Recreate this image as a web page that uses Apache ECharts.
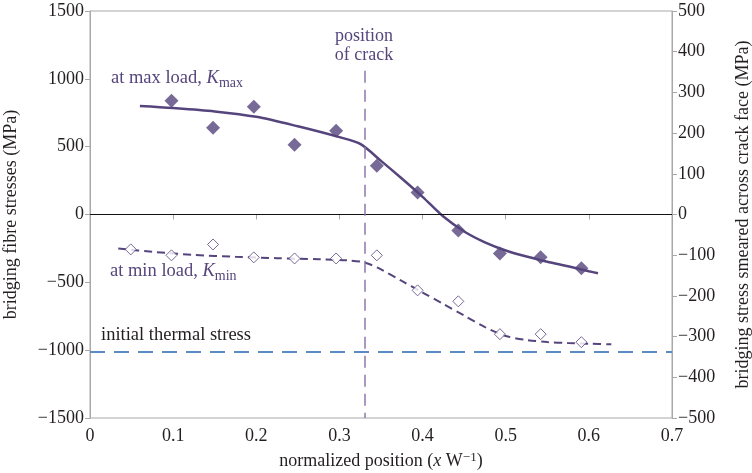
<!DOCTYPE html>
<html><head><meta charset="utf-8">
<script src="https://cdn.jsdelivr.net/npm/echarts@6/dist/echarts.min.js"></script>
<style>html,body{margin:0;padding:0;background:#fff}#c{width:752px;height:473px}</style>
</head><body><div id="c"></div>
<script>
// data
const maxPointsX = [0.098,0.148,0.197,0.246,0.296,0.345,0.394,0.443,0.493,0.542,0.591];
const maxPointsY = [838,640,794,515,618,360,162,-118,-287,-316,-397];
const minPointsX = [0.049,0.098,0.148,0.197,0.246,0.296,0.345,0.394,0.443,0.493,0.542,0.591];
const minPointsY = [-257,-301,-221,-316,-324,-324,-301,-559,-640,-882,-882,-941];
const maxCurveX = [0.06,0.1,0.15,0.2,0.25,0.3,0.325,0.35,0.375,0.4,0.425,0.45,0.475,0.5,0.525,0.55,0.575,0.6,0.611];
const maxCurveY = [800,785,760,720,650,570,520,395,265,130,-15,-125,-205,-265,-310,-348,-382,-418,-433];
const minCurveX = [0.034,0.075,0.125,0.175,0.225,0.275,0.31,0.331,0.35,0.375,0.4,0.425,0.45,0.475,0.5,0.525,0.55,0.575,0.6,0.627];
const minCurveY = [-250,-275,-298,-312,-322,-330,-338,-355,-405,-490,-575,-660,-745,-830,-895,-925,-940,-948,-952,-957];
const crackX = 0.331;
const crackTop = 1060;
const thermalStress = -1010;
const xTicks = [0,0.1,0.2,0.3,0.4,0.5,0.6,0.7];
const leftTicks = [-1500,-1000,-500,0,500,1000,1500];
const rightTicks = [-500,-400,-300,-200,-100,0,100,200,300,400,500];

const zip = (a,b)=>a.map((v,i)=>[v,b[i]]);
const PURPLE = '#56457c';
const FONT = 'Liberation Serif';
const FS = 18;
const AX = '#a8a8a8';
const TXT = '#231f20';
const fmt = v => String(v).replace('-', '\u2212');

const chart = echarts.init(document.getElementById('c'));
chart.setOption({
  animation:false,
  textStyle:{fontFamily:FONT},
  grid:{left:90,right:80,top:11,bottom:55,show:true,borderColor:AX,borderWidth:1,backgroundColor:'transparent',
        containLabel:false,outerBoundsMode:'none'},
  xAxis:{type:'value',min:xTicks[0],max:xTicks[xTicks.length-1],interval:0.1,
    name:'{n|normalized position (}{i|x}{n| W}{p|\u22121}{n|)}',nameLocation:'middle',nameGap:33,
    nameTextStyle:{fontFamily:FONT,fontSize:FS,color:TXT,rich:{
      n:{fontFamily:FONT,fontSize:FS,color:TXT},
      i:{fontFamily:FONT,fontSize:FS,color:TXT,fontStyle:'italic'},
      p:{fontFamily:FONT,fontSize:13,color:TXT,padding:[0,0,8,0]}}},
    axisLine:{lineStyle:{color:AX}},axisTick:{show:true,length:5,lineStyle:{color:AX}},
    axisLabel:{fontFamily:FONT,fontSize:FS,color:TXT,margin:9,formatter:v=>fmt(Math.round(v*10)/10)},
    splitLine:{show:false}},
  yAxis:[
    {type:'value',min:leftTicks[0],max:leftTicks[leftTicks.length-1],interval:500,
     name:'bridging fibre stresses (MPa)',nameLocation:'middle',nameGap:70,
     nameTextStyle:{fontFamily:FONT,fontSize:FS,color:TXT},
     axisLine:{show:true,lineStyle:{color:AX}},axisTick:{show:true,length:5,lineStyle:{color:AX}},
     axisLabel:{fontFamily:FONT,fontSize:FS,color:TXT,margin:6,formatter:fmt},
     splitLine:{show:false}},
    {type:'value',min:rightTicks[0],max:rightTicks[rightTicks.length-1],interval:100,position:'right',
     name:'bridging stress smeared across crack face (MPa)',nameLocation:'middle',nameGap:62,nameRotate:90,
     nameTextStyle:{fontFamily:FONT,fontSize:FS,color:TXT},
     axisLine:{show:true,lineStyle:{color:AX}},axisTick:{show:true,length:5,lineStyle:{color:AX}},
     axisLabel:{fontFamily:FONT,fontSize:FS,color:TXT,margin:6,formatter:fmt},
     splitLine:{show:false}}
  ],
  series:[
    {type:'line',data:zip(maxCurveX,maxCurveY),smooth:0.3,showSymbol:false,symbol:'none',
     lineStyle:{color:PURPLE,width:2.5},z:3,
     markLine:{silent:true,symbol:'none',label:{show:false},
       data:[
         [{coord:[xTicks[0],0],lineStyle:{color:'#111',width:1,type:'solid'}},{coord:[xTicks[xTicks.length-1],0]}],
         [{coord:[crackX,crackTop],lineStyle:{color:'#8b78ab',width:1.5,type:[12,7]}},{coord:[crackX,leftTicks[0]]}],
         [{coord:[xTicks[0],thermalStress],lineStyle:{color:'#5b8ac5',width:2,type:[15,9]}},{coord:[xTicks[xTicks.length-1],thermalStress]}]
       ]}},
    {type:'line',data:zip(minCurveX,minCurveY),smooth:0.3,showSymbol:false,symbol:'none',
     lineStyle:{color:PURPLE,width:2,type:[8,5]},z:3},
    {type:'scatter',data:zip(maxPointsX,maxPointsY),symbol:'diamond',symbolSize:14,
     itemStyle:{color:PURPLE},z:4},
    {type:'scatter',data:zip(minPointsX,minPointsY),symbol:'diamond',symbolSize:11,
     itemStyle:{color:'#fff',borderColor:PURPLE,borderWidth:1},z:4}
  ],
  graphic:[
    {type:'text',left:111,top:69,style:{text:'{a|at max load, }{k|K}{s|max}',rich:{
      a:{fontFamily:FONT,fontSize:18.5,fill:PURPLE},k:{fontFamily:FONT,fontSize:18.5,fontStyle:'italic',fill:PURPLE},
      s:{fontFamily:FONT,fontSize:14,fill:PURPLE,padding:[9,0,0,0]}}}},
    {type:'text',left:110,top:262,style:{text:'{a|at min load, }{k|K}{s|min}',rich:{
      a:{fontFamily:FONT,fontSize:18.5,fill:PURPLE},k:{fontFamily:FONT,fontSize:18.5,fontStyle:'italic',fill:PURPLE},
      s:{fontFamily:FONT,fontSize:14,fill:PURPLE,padding:[9,0,0,0]}}}},
    {type:'text',left:101,top:326,style:{text:'initial thermal stress',fontFamily:FONT,fontSize:18.5,fill:TXT}},
    {type:'text',x:364,y:27,style:{text:'position\nof crack',fontFamily:FONT,fontSize:18,fill:PURPLE,align:'center',lineHeight:19}}
  ]
});
</script></body></html>
